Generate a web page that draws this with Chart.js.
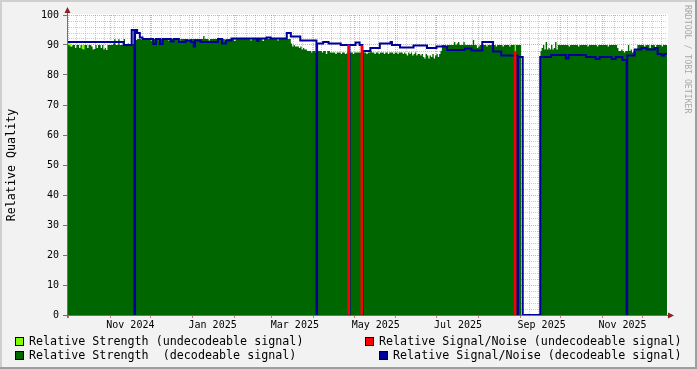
<!DOCTYPE html>
<html>
<head>
<meta charset="utf-8">
<script src="https://cdn.jsdelivr.net/npm/chart.js@4"></script>
<style>
  html, body { margin: 0; padding: 0; background: #f2f2f2; }
  canvas { display: block; }
</style>
</head>
<body>
<canvas id="chart" width="697" height="369"></canvas>
<script>
// x = days since Mon 30 Sep 2024
const xMax = 445;

// daily relative strength (decodeable signal), null = no data
const strength = [
  90, 90, 89.5, 89.5, 90, 90, 89, 90, 90, 89,
  90, 88.7, 88.5, 90, 90, 89, 90, 90, 89.5, 88.5,
  88.7, 90, 89, 90, 90, 89, 90, 88.5, 89, 88.3,
  90, 90, 90, 90, 90.5, 91.9, 90, 90, 91.9, 90,
  90, 90, 92, 90, 90, 90.5, 90, 90.3, 90.3, 90.3,
  90.3, 91.7, 92, 92, 92, 91.7, 92, 92, 92, 92,
  92, 92, 91.5, 92, 92, 92, 92, 92, 91.5, 92,
  92, 92, 92, 92, 92, 91.5, 92, 92, 92, 92,
  92, 92, 92, 91.3, 92, 92, 92, 92, 92, 92,
  91.5, 92, 92, 92, 92, 92, 92, 92, 92, 92,
  92, 93, 92, 92, 92, 91.5, 92, 92, 92, 92,
  92, 92, 92, 92, 92, 92, 92, 91.5, 92, 92,
  92, 92, 92, 92, 91.3, 92, 92, 92, 92, 92,
  92, 92, 92, 92, 92, 92, 91.5, 92, 92, 92,
  92, 92, 92, 92, 92, 91.3, 92, 92, 92, 92,
  92, 92, 92, 92, 92, 92, 91.5, 92, 92, 92,
  92, 92, 92, 92, 92, 92, 90.5, 89.5, 90, 89.5,
  89.5, 89.5, 89, 89.5, 88.5, 89, 88.5, 88.5, 88, 88,
  88, 87.5, 88, 88, 87.5, 87, 88, 88, 88, 87.5,
  88, 88, 87, 88, 88, 87.5, 87.5, 87.5, 87.5, 87,
  87.5, 87.5, 87.5, 87, 87.5, 87.5, 87, 87.2, 87.5, 87.5,
  87.5, 87.5, 87, 87.5, 87.5, 87.5, 87.5, 87.5, 87.5, 87.5,
  87.5, 87.5, 87, 87.5, 87.5, 88, 87.5, 87.5, 87, 87.5,
  87.5, 87, 87.5, 87.5, 87.5, 87, 87.5, 87.5, 87, 87.5,
  87.5, 87.5, 87, 87.5, 87.5, 87, 87.5, 87.5, 87.5, 87,
  87.5, 87, 86.5, 87.5, 87, 87.5, 86.5, 87, 87.5, 86.5,
  87, 87, 86.5, 87, 86, 85.5, 87, 86.5, 85.5, 86.5,
  86, 87, 85.5, 86.5, 87, 86, 87, 88, 90, 90,
  90, 89.5, 90, 90, 90, 90, 90, 91, 90, 90.5,
  91, 90, 90, 90, 91, 90, 90, 90, 90, 90,
  90, 91.7, 90, 90, 89, 89.5, 90, 90, 90, 90,
  90, 89.5, 90, 90, 90, 90, 90, 90, 89.5, 90,
  90, 90, 90, 89.5, 90, 90, 90, 90, 89.5, 90,
  90, 90, 87.8, 90, 90, 90, 90, 89.5, null, null,
  null, null, null, null, null, null, null, null, null, null,
  null, 88, 89, 90, 88.5, 91, 88.5, 89, 88.5, 90,
  88.5, 89, 91, 88.5, 90, 90, 90, 90, 90, 90,
  90, 90, 89.5, 90, 90, 90, 90, 90, 90, 89.5,
  90, 90, 90, 90, 90, 90, 89.5, 90, 90, 90,
  90, 90, 90, 89.5, 90, 90, 90, 90, 90, 90,
  90, 89.5, 90, 90, 90, 90, 90, 90, 89, 88,
  88, 88.5, 88, 87.5, 88, 88, 90, 88, 88.5, 87.5,
  88, 88, 88.5, 90, 90, 90, 90, 90, 89.5, 90,
  90, 90, 89, 90, 90, 90, 88.9, 90, 90, 90,
  90, 89.5, 90, 90, 90
];

// relative strength (undecodeable signal)
const undecStrengthDays = [1.5, 12.5, 332.5];
const undecStrength = [90.5, 90, 90];

// relative signal/noise (decodeable), value holds from that day on
const snDays = [0, 42, 48, 50, 50.5, 52, 54, 56, 64, 66, 69, 71, 77, 79, 83, 88, 92, 94, 95, 99,
  112, 115, 118, 122, 141, 142, 148, 151, 163, 166, 173, 185, 185.5, 190, 194, 203, 209, 209.5,
  214, 217, 219, 219.5, 225, 232, 240, 241, 247, 257, 267, 274, 282, 295, 300, 308, 316, 322,
  334, 334.5, 338, 351, 359, 370, 372, 385, 392, 395, 404, 407, 412, 415, 415.5, 421, 426, 430,
  436, 438, 441, 443, 445];
const snValues = [91, 90, 95, 0, 95, 94, 92.5, 92, 90.3, 92, 90.3, 92, 91.2, 92, 91, 91.5, 91, 89.5, 91.5, 91,
  92, 90.5, 91.5, 92.2, 91.3, 92.2, 92.5, 92.2, 94, 92.8, 91.5, 0, 90.5, 91, 90.5, 90, 0, 90,
  90.8, 90, 0, 88, 89, 90.5, 91, 90, 89.2, 89.8, 89, 89.5, 88.3, 88.8, 88.2, 91, 87.8, 86.5,
  0, 86, 0, 86, 86.7, 85.5, 86.7, 86, 85.3, 86, 85.3, 86, 85, 0, 86.5, 88.5, 89, 88.5,
  89, 87, 86.5, 87, 87];

// relative signal/noise (undecodeable signal)
const undecSnDays = [208.9, 218.7, 332.3];
const undecSn = [90, 89.7, 87.8];

// time axis
const monthDays = [1, 32, 62, 93, 124, 152, 183, 213, 244, 274, 305, 336, 366, 397, 427];
const labelDays = [47, 108, 169, 229, 290, 352, 412];
const labelText = ['Nov 2024', 'Jan 2025', 'Mar 2025', 'May 2025', 'Jul 2025', 'Sep 2025', 'Nov 2025'];

const FONT = 'DejaVu Sans Mono';
const MINOR = 'rgba(143,143,143,0.45)';
const MAJOR = 'rgba(222,79,79,0.5)';

const labelMap = {};
labelDays.forEach((d, i) => { labelMap[d] = labelText[i]; });
const xTickSet = new Set(monthDays.concat(labelDays));
for (let d = 7; d < xMax; d += 7) xTickSet.add(d);
const xTicks = Array.from(xTickSet).sort((a, b) => a - b);

const strengthPts = strength.map((v, i) => ({ x: i, y: v }));
strengthPts.push({ x: xMax, y: strength[strength.length - 1] });
const snPts = snDays.map((d, i) => ({ x: d, y: snValues[i] }));
const undecStrengthPts = undecStrengthDays.map((d, i) => ({ x: d, y: undecStrength[i] }));
const undecSnPts = undecSnDays.map((d, i) => ({ x: d, y: undecSn[i] }));

function xGridColor(ctx) {
  if (!ctx.tick) return MINOR;
  const v = ctx.tick.value;
  if (labelMap[v]) return 'transparent';
  return monthDays.includes(v) ? MAJOR : MINOR;
}
function xTickColor(ctx) {
  if (!ctx.tick) return 'transparent';
  return monthDays.includes(ctx.tick.value) ? 'rgba(222,79,79,0.8)' : 'transparent';
}
function yGridColor(ctx) {
  if (!ctx.tick) return MINOR;
  return ctx.tick.value % 10 === 0 ? MAJOR : MINOR;
}
function yTickColor(ctx) {
  if (!ctx.tick) return 'transparent';
  return ctx.tick.value % 10 === 0 ? 'rgba(31,31,31,0.6)' : 'transparent';
}

const legendItems = [
  { color: '#80ff00', text: 'Relative Strength (undecodeable signal)', bx: 15, by: 337, tx: 29 },
  { color: '#ff0000', text: 'Relative Signal/Noise (undecodeable signal)', bx: 365, by: 337, tx: 379 },
  { color: '#006600', text: 'Relative Strength  (decodeable signal)', bx: 15, by: 351, tx: 29 },
  { color: '#000099', text: 'Relative Signal/Noise (decodeable signal)', bx: 379, by: 351, tx: 393 }
];

const rrdFrame = {
  id: 'rrdFrame',
  beforeDraw(chart) {
    const c = chart.ctx;
    const a = chart.chartArea;
    const W = chart.width, H = chart.height;
    c.save();
    c.fillStyle = '#f2f2f2';
    c.fillRect(0, 0, W, H);
    c.fillStyle = '#cfcfcf';
    c.fillRect(0, 0, W, 2);
    c.fillRect(0, 0, 2, H);
    c.fillStyle = '#9e9e9e';
    c.fillRect(0, H - 2, W, 2);
    c.fillRect(W - 2, 0, 2, H);
    c.fillStyle = '#ffffff';
    c.fillRect(a.left, a.top - 1, a.right - a.left + 1, a.bottom - a.top + 1);
    c.restore();
  },
  afterDraw(chart) {
    const c = chart.ctx;
    const a = chart.chartArea;
    c.save();
    // axes
    c.strokeStyle = '#707070';
    c.lineWidth = 1;
    c.beginPath();
    c.moveTo(a.left - 4, a.bottom + 0.5);
    c.lineTo(a.right + 2, a.bottom + 0.5);
    c.moveTo(a.left + 0.5, a.bottom + 3);
    c.lineTo(a.left + 0.5, a.top - 3);
    c.stroke();
    c.fillStyle = '#8a2020';
    c.beginPath();
    c.moveTo(a.right + 1, a.bottom - 2.5);
    c.lineTo(a.right + 7, a.bottom + 0.5);
    c.lineTo(a.right + 1, a.bottom + 3.5);
    c.closePath();
    c.fill();
    c.beginPath();
    c.moveTo(a.left - 2.5, a.top - 2);
    c.lineTo(a.left + 0.5, a.top - 8);
    c.lineTo(a.left + 3.5, a.top - 2);
    c.closePath();
    c.fill();

    // legend
    c.font = '11.7px "' + FONT + '"';
    c.textBaseline = 'middle';
    legendItems.forEach(it => {
      c.fillStyle = it.color;
      c.fillRect(it.bx, it.by, 8, 8);
      c.strokeStyle = '#000';
      c.strokeRect(it.bx + 0.5, it.by + 0.5, 8, 8);
      c.fillStyle = '#000';
      c.fillText(it.text, it.tx, it.by + 4.5);
    });

    // watermark
    c.translate(684, 5);
    c.rotate(Math.PI / 2);
    c.font = '8.2px "' + FONT + '"';
    c.fillStyle = '#a8a8a8';
    c.textBaseline = 'middle';
    c.fillText('RRDTOOL / TOBI OETIKER', 0, -3.5);
    c.restore();
  }
};

new Chart(document.getElementById('chart'), {
  type: 'line',
  data: {
    datasets: [
      {
        type: 'bar',
        label: 'Relative Signal/Noise (undecodeable signal)',
        data: undecSnPts,
        backgroundColor: '#ff0000',
        barThickness: 2,
        grouped: false,
        order: 0
      },
      {
        type: 'line',
        label: 'Relative Signal/Noise (decodeable signal)',
        data: snPts,
        borderColor: '#000099',
        borderWidth: 2,
        stepped: 'before',
        pointRadius: 0,
        fill: false,
        order: 1
      },
      {
        type: 'line',
        label: 'Relative Strength  (decodeable signal)',
        data: strengthPts,
        borderColor: 'transparent',
        borderWidth: 0,
        backgroundColor: '#006600',
        stepped: 'before',
        pointRadius: 0,
        fill: 'origin',
        spanGaps: false,
        order: 2
      },
      {
        type: 'bar',
        label: 'Relative Strength (undecodeable signal)',
        data: undecStrengthPts,
        backgroundColor: '#80ff00',
        barThickness: 3,
        grouped: false,
        order: 3
      }
    ]
  },
  options: {
    responsive: false,
    devicePixelRatio: 1,
    animation: false,
    layout: { padding: { left: 0, right: 30, top: 15, bottom: 0 } },
    plugins: {
      legend: { display: false },
      tooltip: { enabled: false }
    },
    scales: {
      x: {
        type: 'linear',
        min: 0,
        max: xMax,
        offset: false,
        z: 1,
        afterBuildTicks: s => { s.ticks = xTicks.map(v => ({ value: v })); },
        afterFit: s => { s.height = 54; },
        ticks: {
          autoSkip: false,
          maxRotation: 0,
          padding: 1,
          color: '#000',
          font: { family: FONT, size: 10 },
          callback: v => labelMap[v] || ''
        },
        grid: {
          offset: false,
          lineWidth: 1,
          tickLength: 3,
          color: xGridColor,
          tickColor: xTickColor
        },
        border: { display: false, color: 'transparent', dash: [1, 1] }
      },
      y: {
        type: 'linear',
        min: 0,
        max: 100,
        z: 1,
        afterFit: s => { s.width = 67; },
        title: {
          display: true,
          text: 'Relative Quality',
          color: '#000',
          font: { family: FONT, size: 11.7 },
          padding: { top: 5, bottom: 0 }
        },
        ticks: {
          stepSize: 2,
          autoSkip: false,
          padding: 4,
          color: '#000',
          font: { family: FONT, size: 10 },
          callback: v => (v % 10 === 0 ? String(v) : '')
        },
        grid: {
          lineWidth: 1,
          tickLength: 4,
          color: yGridColor,
          tickColor: yTickColor
        },
        border: { display: false, color: 'transparent', dash: [1, 1] }
      }
    }
  },
  plugins: [rrdFrame]
});
</script>
</body>
</html>
